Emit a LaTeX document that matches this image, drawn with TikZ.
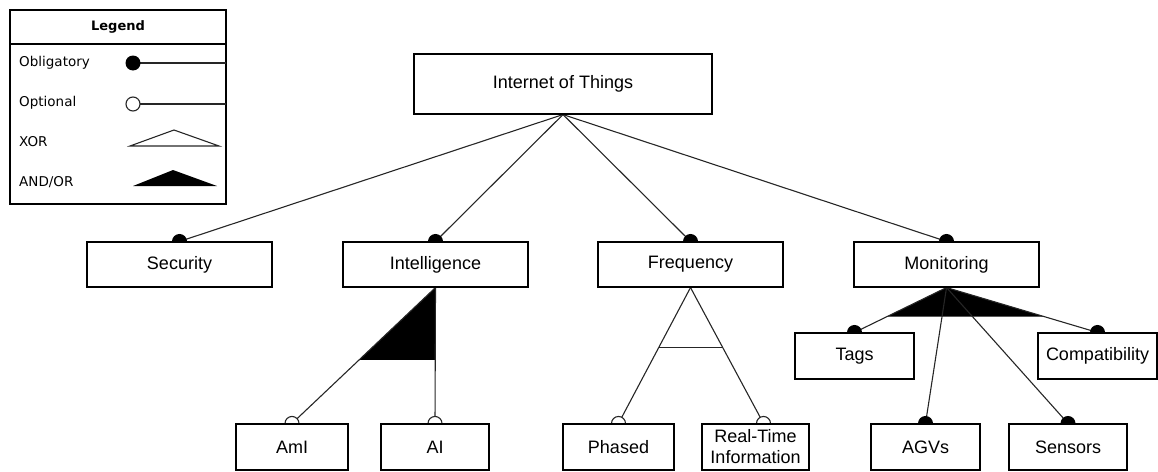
\documentclass[tikz,border=0pt]{standalone}
\usepackage{fontspec}
\setmainfont{Liberation Sans}
\newfontfamily\legendfont{DejaVu Sans}
\usepackage{tikz}
\usetikzlibrary{calc, backgrounds}

\begin{document}
\begin{tikzpicture}[
    x=1pt, y=-1pt,
    feature/.style = {rectangle, draw=black, fill=white, line width=1.1pt, align=center, inner sep=0pt, font=\fontsize{18}{21}\selectfont, minimum height=45pt},
    link/.style = {draw=black!85, line width=1.1pt},
    mand/.style = {fill=black},
    opt/.style = {draw=black!85, fill=white, line width=1.1pt},
    legendtxt/.style = {anchor=west, inner sep=0pt, font=\legendfont\fontsize{13.5}{15}\selectfont}
]
\useasboundingbox (0, 0) rectangle (1158, 471);

% Legend
\draw [line width=1.1pt] (10, 10) rectangle (226, 204);
\draw [line width=1.1pt] (10, 44) -- (226, 44);
\node (legtitle) [font=\legendfont\bfseries\fontsize{13}{15}\selectfont] at (118, 27) {Legend};
\node (legobl) [legendtxt] at (19, 63) {Obligatory};
\node (legopt) [legendtxt] at (19, 103) {Optional};
\node (legxor) [legendtxt] at (19, 142) {XOR};
\node (legand) [legendtxt] at (19, 182) {AND/OR};
\draw [link] (133, 63) -- (226, 63);
\fill [mand] (133, 63) circle [radius=7.5pt];
\draw [link] (133, 104) -- (226, 104);
\filldraw [opt] (133, 104) circle [radius=7pt];
\draw [link] (130, 146) -- (174, 130) -- (219, 146) -- cycle;
\fill (133, 186) -- (173, 170) -- (217, 186) -- cycle;

% Features
\node (iot) [feature, minimum width=298pt, minimum height=60pt] at (563, 84) {Internet of Things};
\node (sec) [feature, minimum width=185pt] at (179.5, 264.5) {Security};
\node (intel) [feature, minimum width=185pt] at (435.5, 264.5) {Intelligence};
\node (freq) [feature, minimum width=185pt] at (690.5, 264.5) {Frequency};
\node (mon) [feature, minimum width=185pt] at (946.5, 264.5) {Monitoring};
\node (tags) [feature, minimum width=119pt, minimum height=46pt] at (854.5, 356) {Tags};
\node (compat) [feature, minimum width=119pt, minimum height=46pt] at (1097.5, 356) {Compatibility};
\node (aml) [feature, minimum width=112pt, minimum height=46pt] at (292, 447) {AmI};
\node (ai) [feature, minimum width=108pt, minimum height=46pt] at (435, 447) {AI};
\node (phased) [feature, minimum width=111pt, minimum height=46pt] at (618.5, 447) {Phased};
\node (rti) [feature, minimum width=107pt, minimum height=46pt] at (755.5, 447) {Real-Time\\Information};
\node (agvs) [feature, minimum width=109pt, minimum height=46pt] at (925.5, 447) {AGVs};
\node (sensors) [feature, minimum width=118pt, minimum height=46pt] at (1068, 447) {Sensors};
\coordinate (rtitop) at ($(rti.north)+(8, 0)$);

\begin{scope}[on background layer]
% Root links
\foreach \f in {sec, intel, freq, mon}
    \draw [link] (iot.south) -- (\f.north);
% Intelligence: AND/OR
\fill (intel.south) -- ($(intel.south)!0.533!(aml.north)$) -- ($(intel.south)!0.533!(ai.north)$) -- cycle;
\draw [link] (intel.south) -- (aml.north);
\draw [link] (intel.south) -- (ai.north);
% Frequency: XOR
\draw [link] (freq.south) -- (phased.north);
\draw [link] (freq.south) -- (rtitop);
\draw [link] ($(freq.south)!0.44!(phased.north)$) -- ($(freq.south)!0.44!(rtitop)$);
% Monitoring: AND/OR
\fill (mon.south) -- ($(mon.south)!0.65!(tags.north)$) -- ($(mon.south)!0.65!(compat.north)$) -- cycle;
\foreach \f in {tags, compat, agvs, sensors}
    \draw [link] (mon.south) -- (\f.north);
% Ends
\foreach \f in {sec, intel, freq, mon, tags, compat, agvs, sensors}
    \fill [mand] (\f.north) circle [radius=7.5pt];
\foreach \f in {aml.north, ai.north, phased.north, rtitop}
    \filldraw [opt] (\f) circle [radius=7pt];
\end{scope}

\end{tikzpicture}
\end{document}
